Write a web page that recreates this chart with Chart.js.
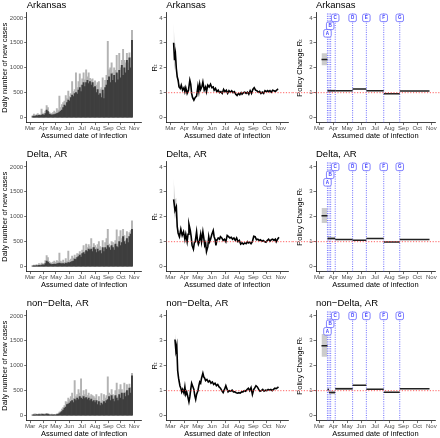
<!DOCTYPE html>
<html><head><meta charset="utf-8">
<script src="https://cdn.jsdelivr.net/npm/chart.js@4.4.1/dist/chart.umd.min.js"></script>
<style>
html,body{margin:0;padding:0;background:#fff;width:440px;height:438px;overflow:hidden;position:relative}
canvas{position:absolute}
</style></head><body>
<script>
// ---------------- DATA ----------------
const monthTickDays = [60, 91, 121, 152, 182, 213, 244, 274, 305];
const monthTickLabels = ['Mar', 'Apr', 'May', 'Jun', 'Jul', 'Aug', 'Sep', 'Oct', 'Nov'];
const caseTicks = [0, 500, 1000, 1500, 2000];
const rtTicks = [0, 1, 2, 3, 4];
const panelTitles = ['Arkansas', 'Delta, AR', 'non\u2212Delta, AR'];

const caseDays = [66,69,72,75,78,81,84,87,90,93,96,99,102,105,108,111,114,117,120,123,126,129,132,135,138,141,144,147,150,153,156,159,162,165,168,171,174,177,180,183,186,189,192,195,198,201,204,207,210,213,216,219,222,225,228,231,234,237,240,243,246,249,252,255,258,261,264,267,270,273,276,279,282,285,288,291,294,297,300];

const arkDark = [20,30,25,40,35,45,40,50,60,45, 80,150,120,70,60,50,55,60,70,80, 90,110,130,150,200,250,230,300,350,330, 400,450,420,480,500,470,550,600,520,650, 700,620,700,750,680,720,650,700,600,620, 500,560,450,480,400,550,380,600,650,750, 820,700,880,750,850,700,900,760,950,800, 1050,850,1000,900,1150,950,1200,1000,1550];
const arkLight = [40,70,45,60,80,60,55,170,90,70, 130,240,200,110,90,80,100,130,100,180, 150,430,200,260,300,330,440,380,530,420, 480,720,520,560,900,600,720,880,650,780, 900,760,960,820,900,790,760,780,700,740, 650,700,720,560,600,800,480,750,850,1530, 960,1000,1100,900,1000,950,1250,880,1290,1000, 1150,1370,1150,1100,1290,1100,1300,1200,1750];

const deltaDark = [10,15,12,20,18,25,20,30,35,30, 60,110,90,60,50,40,45,50,45,55, 60,70,60,55,60,50,70,60,80,75, 90,100,110,150,140,180,200,230,190,260, 280,250,320,300,350,330,350,300,380,340, 280,350,300,320,260,380,300,380,350,420, 380,330,420,380,330,450,400,380,500,420, 480,600,500,450,560,480,600,650,750];
const deltaLight = [20,30,25,40,30,60,40,70,60,50, 120,220,180,100,80,70,90,110,80,120, 100,270,110,90,130,80,160,100,310,120, 150,210,170,230,180,260,250,300,250,330, 420,300,450,380,440,400,560,380,460,420, 380,440,500,400,330,520,360,480,560,750, 450,400,500,480,420,520,740,450,600,720, 560,750,620,520,700,600,680,720,920];

const nonDark = [10,15,12,20,15,20,15,20,25,15, 20,30,25,15,10,15,10,15,10,20, 25,40,60,80,110,150,170,220,230,250, 280,300,260,330,300,350,320,380,350,330, 380,340,360,320,350,300,330,280,300,260, 300,220,280,200,250,220,280,250,300,320, 380,300,400,330,280,400,350,300,420,350, 450,320,450,380,500,400,550,450,800];
const nonLight = [20,30,35,30,25,35,30,40,35,30, 35,45,40,30,25,30,20,25,20,35, 40,70,90,130,160,200,280,260,350,320, 380,450,340,700,380,420,520,450,740,400, 500,420,520,400,450,380,420,400,380,350, 420,300,380,280,440,300,420,350,400,780, 450,420,520,420,380,500,650,380,520,620, 520,420,650,470,620,500,630,560,850];

const arkRtDays = [67,69,71,73,75,77,79,82,84,87, 90,92,94,97,100,103,105,107,109,112, 115,118,121,123,125,127,130,132,135,138, 140,143,146,149,152,155,157,160,163,166, 169,172,175,178,181,184,187,190,193,196, 199,202,205,208,211,214,217,219,222,225, 228,231,234,237,240,243,246,249,252,255, 258,261,264,267,270,273,276,278,281,284, 287,290,293,296,299];
const arkRt = [3.0,2.3,2.55,1.97,1.63,1.5,1.23,1.17,1.3,1.1, 1.2,1.04,1.2,0.97,1.1,1.5,1.34,0.97,0.81,0.7, 0.81,0.86,1.26,1.04,1.34,1.13,1.26,1.43,1.1,1.23, 1.04,1.3,1.23,1.34,1.2,1.23,1.1,1.17,1.04,1.1, 1.0,1.04,0.97,1.13,1.04,1.1,0.97,1.08,1.02,1.08, 1.0,1.04,0.94,0.89,0.97,0.92,1.0,0.94,1.0,1.02, 0.97,1.02,0.94,1.08,0.97,1.13,1.2,1.1,1.08,1.02, 1.05,0.97,1.02,0.97,1.08,1.04,1.08,1.04,1.08,1.02, 1.1,1.08,1.05,1.1,1.16];
const arkBandDays = [67,69,71,73,75,77,79,82,84];
const arkBandHi = [3.8,3.0,2.95,2.3,1.85,1.65,1.35,1.27,1.38];
const arkBandLo = [2.3,1.9,2.25,1.75,1.5,1.38,1.15,1.08,1.22];

const deltaRtDays = [67,70,73,75,77,80,83,86,89,92, 94,97,99,101,104,106,108,111,113,115, 118,120,122,124,127,129,132,134,136,138, 140,143,145,147,149,152,155,157,159,161, 163,166,169,171,174,177,180,183,186,189, 192,195,198,201,204,207,210,213,216,219, 222,225,228,231,233,236,239,242,245,248, 251,254,257,260,263,266,269,272,275,278, 281,284,287,290,293,295,298,301];
const deltaRt = [2.7,2.25,2.4,1.6,1.35,1.2,1.5,1.25,1.4,1.1, 1.3,1.0,1.3,1.7,1.45,1.2,0.85,0.7,0.95,1.0, 1.4,1.05,0.9,1.0,1.3,1.0,1.4,1.15,0.85,0.95, 0.6,0.8,1.2,1.0,1.1,1.3,1.45,1.2,1.1,0.85, 1.05,1.15,1.1,1.2,1.15,1.05,1.1,1.0,1.25,1.2, 1.15,1.18,1.1,1.15,1.05,1.15,1.0,1.05,0.9,0.95, 0.9,0.95,0.92,1.0,0.95,0.98,0.92,1.0,1.22,1.2, 1.08,1.1,1.05,1.08,1.02,1.05,1.0,0.98,1.05,1.1, 1.02,1.08,1.1,1.05,1.1,1.0,1.1,1.18];
const deltaBandDays = [67,70,73,75,77,80];
const deltaBandHi = [3.55,2.7,2.75,1.85,1.5,1.3];
const deltaBandLo = [2.2,1.9,2.1,1.4,1.2,1.1];

const nonRtDays = [70,72,74,76,78,81,83,85,87,90, 92,94,96,98,101,103,105,107,109,112, 114,116,118,121,123,125,127,129,132,134, 136,138,141,144,147,150,153,156,159,162, 165,168,171,174,177,180,183,186,188,191, 194,197,200,203,206,209,212,215,218,221, 224,227,230,233,236,239,242,245,247,250, 253,256,259,262,265,268,271,274,277,280, 283,286,289,292,295,298,300];
const nonRt = [3.05,2.6,2.8,1.8,1.5,1.2,1.1,0.95,1.05,0.9, 1.15,0.85,0.95,0.8,0.55,0.75,1.05,1.3,1.2,1.05, 0.8,0.65,0.85,1.0,1.2,1.35,1.3,1.5,1.7,1.55, 1.5,1.4,1.45,1.35,1.4,1.3,1.35,1.25,1.3,1.2, 1.25,1.15,1.1,1.0,0.92,1.05,1.2,1.05,0.95,1.0, 0.98,1.02,0.95,0.95,0.92,0.9,0.92,0.9,0.95,0.95, 1.0,0.98,1.05,1.1,1.0,1.12,0.85,1.05,1.1,1.2, 1.15,1.05,0.98,1.0,1.05,0.98,1.02,1.0,1.05,1.02, 1.05,1.0,1.05,1.1,1.08,1.12,1.15];
const nonBandDays = [70,72,74,76,78,81];
const nonBandHi = [3.3,2.85,3.0,2.0,1.62,1.3];
const nonBandLo = [2.85,2.35,2.6,1.6,1.38,1.1];

// policy changes
const policyLineDays = [78, 81.5, 85, 95, 133, 163, 201, 236];
const policyLetters = ['A', 'B', 'C', 'D', 'E', 'F', 'G'];
const policyLetterDays = [78, 84, 95, 133, 163, 201, 236];
const policyLetterY = [3.38, 3.68, 4.0, 4.0, 4.0, 4.0, 4.0];
const segStart = [65, 78, 81.5, 95, 133, 163, 201, 236];
const segEnd = [78, 81.5, 95, 133, 163, 201, 236, 301];
const arkPolicy = [2.33, 1.08, 1.08, 1.08, 1.15, 1.08, 0.96, 1.07];
const arkPolicyLo = [2.1, 1.0, 1.03, 1.06, 1.13, 1.06, 0.94, 1.06];
const arkPolicyHi = [2.58, 1.16, 1.13, 1.1, 1.17, 1.1, 0.98, 1.08];
const deltaPolicy = [2.04, 1.13, 1.13, 1.09, 1.06, 1.13, 0.99, 1.09];
const deltaPolicyLo = [1.75, 1.05, 1.08, 1.07, 1.04, 1.11, 0.97, 1.08];
const deltaPolicyHi = [2.35, 1.24, 1.2, 1.11, 1.08, 1.15, 1.01, 1.1];
const nonPolicy = [2.8, 1.05, 0.93, 1.08, 1.22, 1.06, 0.94, 1.08];
const nonPolicyLo = [2.36, 0.95, 0.86, 1.03, 1.2, 1.04, 0.92, 1.07];
const nonPolicyHi = [3.27, 1.12, 1.0, 1.13, 1.24, 1.08, 0.96, 1.09];

// ---------------- LAYOUT / STYLE ----------------
const FONT = "'Liberation Sans', 'DejaVu Sans', Arial, sans-serif";
const ROW_TOP = [0, 149, 298];
const ROW_H = 149;
const COLS = [
  {left: 0,   width: 146, padL: 0,   yW: 26.7, padR: 4.5, xMin: 52,   xMax: 322.4},
  {left: 146, width: 147, padL: 4.5, yW: 15.7, padR: 4.6, xMin: 50.5, xMax: 322},
  {left: 293, width: 147, padL: 2.8, yW: 20.2, padR: 5,   xMin: 53,   xMax: 313}
];
const CASE_MIN = -100, CASE_MAX = 2100, RT_MIN = -0.2, RT_MAX = 4.2;

function makeCanvas(col, row) {
  const c = document.createElement('canvas');
  c.width = COLS[col].width; c.height = ROW_H;
  c.style.left = COLS[col].left + 'px'; c.style.top = ROW_TOP[row] + 'px';
  c.style.width = COLS[col].width + 'px'; c.style.height = ROW_H + 'px';
  document.body.appendChild(c);
  return c;
}

function gridOpts() {
  return {display: true, drawOnChartArea: false, drawTicks: true, tickLength: 2.5, color: '#333', lineWidth: 0.7, offset: false};
}
function borderOpts() { return {display: true, color: '#111', width: 0.8}; }

function buildOptions(col, row, yTitle, yMin, yMax, yTicks) {
  const c = COLS[col];
  return {
    responsive: false, animation: false, devicePixelRatio: 1, events: [],
    layout: {padding: {left: c.padL, right: c.padR, top: 0, bottom: ROW_H - 140.9}},
    elements: {point: {radius: 0}, line: {tension: 0}},
    plugins: {
      legend: {display: false}, tooltip: {enabled: false},
      title: {display: true, text: panelTitles[row], align: 'start', fullSize: false, color: '#000',
        font: {family: FONT, size: 9.5, lineHeight: 0.85, weight: 'normal'}, padding: {top: 1.5, bottom: 3.3}}
    },
    scales: {
      x: {type: 'linear', position: 'bottom', min: c.xMin, max: c.xMax, offset: false,
        afterBuildTicks: s => { s.ticks = monthTickDays.map(v => ({value: v})); },
        afterFit: s => { s.height = 18.3; },
        ticks: {autoSkip: false, maxRotation: 0, minRotation: 0, padding: 0, color: '#4d4d4d',
          font: {family: FONT, size: 6}, callback: v => monthTickLabels[monthTickDays.indexOf(v)]},
        grid: gridOpts(), border: borderOpts(),
        title: {display: true, text: 'Assumed date of infection', color: '#000', font: {family: FONT, size: 7.5}, padding: 0}},
      y: {type: 'linear', position: 'left', min: yMin, max: yMax,
        afterBuildTicks: s => { s.ticks = yTicks.map(v => ({value: v})); },
        afterFit: s => { s.width = c.yW; },
        ticks: {padding: 1, color: '#4d4d4d', font: {family: FONT, size: 6}, callback: v => String(v)},
        grid: gridOpts(), border: borderOpts(),
        title: {display: true, text: yTitle, color: '#000', font: {family: FONT, size: 7.5}, padding: 0}}
    }
  };
}

function casesChart(row, dark, light) {
  const opts = buildOptions(0, row, 'Daily number of new cases', CASE_MIN, CASE_MAX, caseTicks);
  new Chart(makeCanvas(0, row), {
    type: 'bar',
    data: {datasets: [
      {data: caseDays.map((d, i) => ({x: d, y: dark[i]})), backgroundColor: '#3e3e3e', grouped: false, order: 0,
       barPercentage: 1, categoryPercentage: 1, borderWidth: 0},
      {data: caseDays.map((d, i) => ({x: d, y: light[i]})), backgroundColor: '#b3b3b3', grouped: false, order: 1,
       barPercentage: 1, categoryPercentage: 1, borderWidth: 0}
    ]},
    options: opts
  });
}

function redLine(clip) {
  return {type: 'line', data: [{x: -200, y: 1}, {x: 600, y: 1}], borderColor: 'rgba(255,70,70,0.85)',
    borderWidth: 1, borderDash: [1.2, 1.6], pointRadius: 0, fill: false, clip: clip, order: 0};
}

function rtChart(row, days, vals, bDays, bHi, bLo) {
  const opts = buildOptions(1, row, 'R\u209C', RT_MIN, RT_MAX, rtTicks);
  new Chart(makeCanvas(1, row), {
    type: 'line',
    data: {datasets: [
      {data: bDays.map((d, i) => ({x: d, y: bHi[i]})), borderWidth: 0, fill: '+1', backgroundColor: 'rgba(0,0,0,0.2)', order: 3},
      {data: bDays.map((d, i) => ({x: d, y: bLo[i]})), borderWidth: 0, fill: false, order: 3},
      {data: days.map((d, i) => ({x: d, y: vals[i]})), borderColor: '#000', borderWidth: 1.6, fill: false, order: 1},
      redLine({left: 0, top: 0, right: false, bottom: 0})
    ]},
    options: opts
  });
}

const letterPlugin = {
  id: 'policyLetters',
  afterDatasetsDraw(chart) {
    const {ctx, scales: {x, y}} = chart;
    ctx.save();
    policyLetters.forEach((L, i) => {
      const px = x.getPixelForValue(policyLetterDays[i]);
      const py = y.getPixelForValue(policyLetterY[i]);
      const w = 7.5, h = 7.5;
      ctx.beginPath();
      ctx.roundRect(px - w / 2, py - h / 2, w, h, 1.6);
      ctx.fillStyle = '#fff'; ctx.fill();
      ctx.strokeStyle = 'rgba(90,90,255,0.95)'; ctx.lineWidth = 0.8; ctx.stroke();
      ctx.fillStyle = '#3c3cff';
      ctx.font = 'bold 4.6px ' + FONT;
      ctx.textAlign = 'center'; ctx.textBaseline = 'middle';
      ctx.fillText(L, px, py + 0.3);
    });
    ctx.restore();
  }
};

function policyChart(row, mid, lo, hi) {
  const opts = buildOptions(2, row, 'Policy Change R\u209C', RT_MIN, RT_MAX, rtTicks);
  const ds = [];
  segStart.forEach((s, i) => {
    ds.push({data: [{x: s, y: hi[i]}, {x: segEnd[i], y: hi[i]}], borderWidth: 0, fill: '+1', backgroundColor: 'rgba(0,0,0,0.2)', order: 5});
    ds.push({data: [{x: s, y: lo[i]}, {x: segEnd[i], y: lo[i]}], borderWidth: 0, fill: false, order: 5});
  });
  policyLineDays.forEach(d => {
    ds.push({data: [{x: d, y: RT_MIN}, {x: d, y: RT_MAX}], borderColor: 'rgba(80,80,255,0.85)', borderWidth: 1,
      borderDash: [1, 1.3], fill: false, order: 3});
  });
  segStart.forEach((s, i) => {
    ds.push({data: [{x: s, y: mid[i]}, {x: segEnd[i], y: mid[i]}], borderColor: '#222', borderWidth: 1.5, fill: false, order: 2});
  });
  ds.push(redLine({left: false, top: 0, right: false, bottom: 0}));
  new Chart(makeCanvas(2, row), {type: 'line', data: {datasets: ds}, options: opts, plugins: [letterPlugin]});
}

casesChart(0, arkDark, arkLight);
casesChart(1, deltaDark, deltaLight);
casesChart(2, nonDark, nonLight);
rtChart(0, arkRtDays, arkRt, arkBandDays, arkBandHi, arkBandLo);
rtChart(1, deltaRtDays, deltaRt, deltaBandDays, deltaBandHi, deltaBandLo);
rtChart(2, nonRtDays, nonRt, nonBandDays, nonBandHi, nonBandLo);
policyChart(0, arkPolicy, arkPolicyLo, arkPolicyHi);
policyChart(1, deltaPolicy, deltaPolicyLo, deltaPolicyHi);
policyChart(2, nonPolicy, nonPolicyLo, nonPolicyHi);
</script>
</body></html>
